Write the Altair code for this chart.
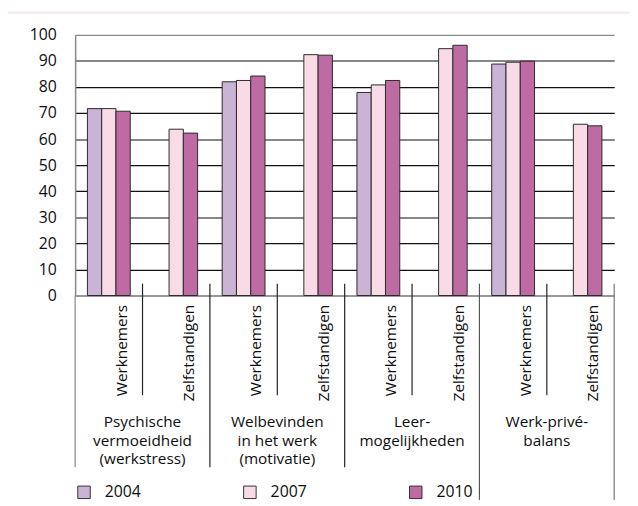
import altair as alt
import pandas as pd

# ---- data ----
categories = [
    "Psychische vermoeidheid (werkstress)",
    "Welbevinden in het werk (motivatie)",
    "Leer-mogelijkheden",
    "Werk-privé-balans",
]
category_lines = [
    ["Psychische", "vermoeidheid", "(werkstress)"],
    ["Welbevinden", "in het werk", "(motivatie)"],
    ["Leer-", "mogelijkheden"],
    ["Werk-privé-", "balans"],
]
groups = ["Werknemers", "Zelfstandigen"]
years = ["2004", "2007", "2010"]
# order: cat1 W, cat1 Z, cat2 W, cat2 Z, ...
values_2004 = [71.7, None, 82.0, None, 77.9, None, 88.8, None]
values_2007 = [71.7, 63.8, 82.5, 92.4, 80.8, 94.7, 89.5, 65.7]
values_2010 = [70.7, 62.3, 84.2, 92.2, 82.5, 96.0, 89.9, 65.1]
colors = ["#cbb3d5", "#f9dbe7", "#be6ba3"]

cells = [f"{c}|{g}" for c in categories for g in groups]
series = {"2004": values_2004, "2007": values_2007, "2010": values_2010}

rows = []
for yr in years:
    for cell, v in zip(cells, series[yr]):
        if v is not None:
            rows.append({"cell": cell, "year": yr, "value": v})
bars_df = pd.DataFrame(rows)

inner_df = pd.DataFrame({"cell": [f"{c}|Zelfstandigen" for c in categories]})
group_long_df = pd.DataFrame({"cell": [f"{categories[3]}|Werknemers"]})
right_df = pd.DataFrame({"cell": [cells[-1]]})
cat_df = pd.DataFrame({
    "cell": [f"{c}|Werknemers" for c in categories],
    "label": ["\n".join(l) for l in category_lines],
})

FONT = "Open Sans"
TXT = "#0d0d0d"
xscale = alt.Scale(domain=cells, paddingInner=0, paddingOuter=0)
x_axis = alt.Axis(labelExpr="split(datum.value, '|')[1]", labelAngle=270,
                  labelAlign="right", labelBaseline="alphabetic",
                  labelOffset=18, labelPadding=9, labelFontSize=15.5,
                  labelColor=TXT, ticks=False, domainColor="#888888",
                  domainWidth=1.5, grid=False, labelFont=FONT, title=None)

bars = alt.Chart(bars_df).mark_bar(stroke="#2a2a2a", strokeWidth=1).encode(
    x=alt.X("cell:N", scale=xscale, axis=x_axis),
    xOffset=alt.XOffset("year:N", scale=alt.Scale(domain=years, paddingInner=0, paddingOuter=0.86)),
    y=alt.Y("value:Q", scale=alt.Scale(domain=[0, 100], nice=False), title=None,
            axis=alt.Axis(values=list(range(0, 101, 10)), ticks=False, labelPadding=19,
                          labelFontSize=16, labelColor=TXT, labelFont=FONT,
                          domainColor="#888888", domainWidth=1.5,
                          gridColor={"condition": {"test": "datum.value == 100 || datum.value == 0",
                                                   "value": "#888888"},
                                     "value": "#111111"},
                          gridWidth=1.2)),
    color=alt.Color("year:N", scale=alt.Scale(domain=years, range=colors),
                    legend=alt.Legend(orient="none", legendX=1, legendY=455, direction="horizontal",
                                      title=None, symbolType="square", symbolSize=160,
                                      symbolStrokeColor="#333333", symbolStrokeWidth=1,
                                      labelFontSize=16, labelFont=FONT, labelColor=TXT,
                                      labelOffset=13, columnPadding=101, padding=0)),
)

def rules(df, y1, y2, color="#222222", band=0):
    return alt.Chart(df).mark_rule(color=color, strokeWidth=1.2).encode(
        x=alt.X("cell:N", scale=xscale, bandPosition=band, axis=x_axis),
        y=alt.value(y1), y2=alt.value(y2))

inner = rules(inner_df, 252, 365)
axis_ext = rules(pd.DataFrame({"cell": [cells[0]]}), 264, 438, color="#888888")
group_short = rules(pd.DataFrame({"cell": [f"{c}|Werknemers" for c in categories[1:3]]}), 252, 438)
group_long = rules(group_long_df, 252, 471, color="#555555")
right_rule = rules(right_df, 252, 471, color="#777777", band=1)

cat_text = alt.Chart(cat_df).mark_text(
    fontSize=15.5, font=FONT, color=TXT, lineBreak="\n", lineHeight=19,
    baseline="top", align="center"
).encode(
    x=alt.X("cell:N", scale=xscale, bandPosition=1, axis=x_axis),
    y=alt.value(385),
    text="label:N",
)

pink_top = alt.Chart(alt.Data(values=[{"a": 1}])).mark_rect(color="#f8edf3").encode(
    x=alt.value(-68), x2=alt.value(562), y=alt.value(-24), y2=alt.value(-21))

chart = alt.layer(pink_top, bars, inner, axis_ext, group_short, group_long, right_rule, cat_text).properties(
    width=546, height=264,
    padding={"left": 68, "top": 24, "right": 16, "bottom": 210},
    autosize="none",
).configure(font=FONT, background="white").configure_view(stroke=None)

chart.save("out.html", embed_options={"renderer": "svg", "actions": False})
